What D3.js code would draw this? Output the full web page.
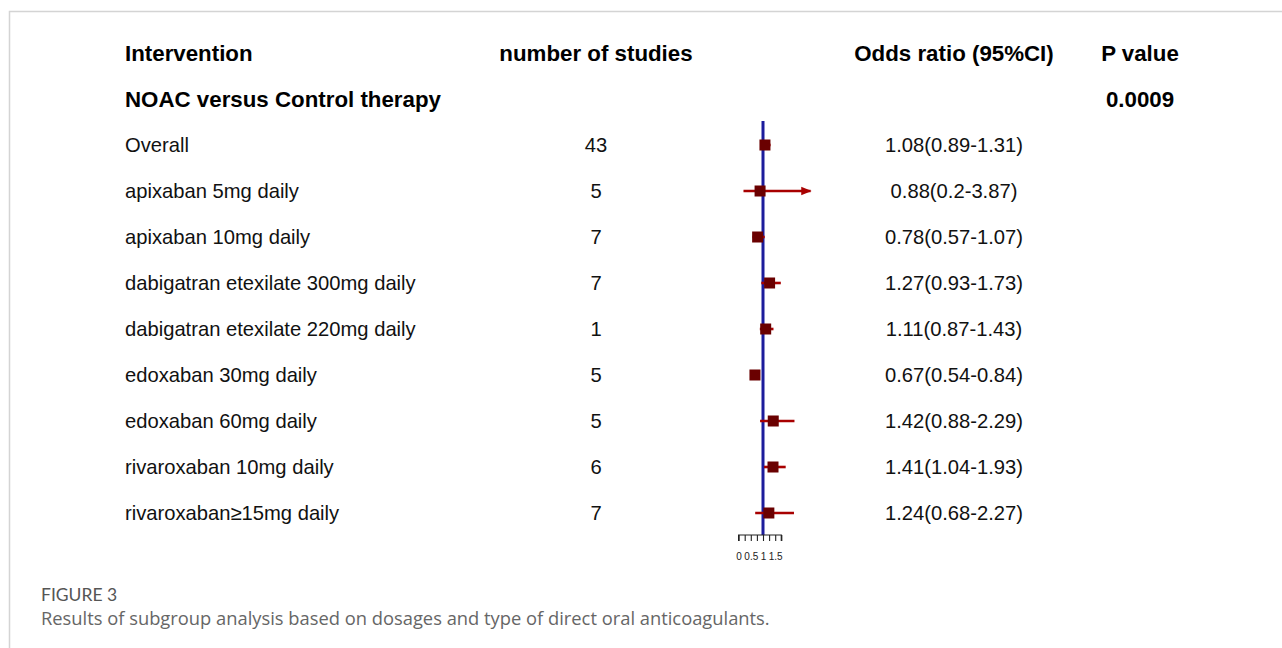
<!DOCTYPE html>
<html><head><meta charset="utf-8">
<script src="https://cdn.jsdelivr.net/npm/d3@7"></script>
<style>
html,body{margin:0;padding:0;background:#fff;}
svg{display:block;}
</style></head>
<body>
<svg id="c" width="1282" height="648"></svg>
<script>
const headers = ["Intervention", "number of studies", "Odds ratio (95%CI)", "P value"];
const groupLabel = "NOAC versus Control therapy";
const groupP = "0.0009";
const interventions = ["Overall","apixaban 5mg daily","apixaban 10mg daily","dabigatran etexilate 300mg daily","dabigatran etexilate 220mg daily","edoxaban 30mg daily","edoxaban 60mg daily","rivaroxaban 10mg daily","rivaroxaban\u226515mg daily"];
const studies = [43, 5, 7, 7, 1, 5, 5, 6, 7];
const oddsRatio = [1.08, 0.88, 0.78, 1.27, 1.11, 0.67, 1.42, 1.41, 1.24];
const lower = [0.89, 0.2, 0.57, 0.93, 0.87, 0.54, 0.88, 1.04, 0.68];
const upper = [1.31, 3.87, 1.07, 1.73, 1.43, 0.84, 2.29, 1.93, 2.27];
const axisTicks = [0, 0.25, 0.5, 0.75, 1, 1.25, 1.5, 1.75];
const axisLabels = [0, 0.5, 1, 1.5];
const clipMax = 2.95;
const caption1 = "FIGURE 3";
const caption2 = "Results of subgroup analysis based on dosages and type of direct oral anticoagulants.";

const svg = d3.select("#c");
const font = "Arial, 'Liberation Sans', Helvetica, sans-serif";
const capFont = "'Open Sans', Lato, sans-serif";

function fitWidth(sel, target){
  const w = sel.node().getComputedTextLength();
  const fs = parseFloat(sel.attr("font-size"));
  if (w > 0) sel.attr("font-size", (fs*target/w).toFixed(2));
}

// frame
svg.append("path").attr("d","M9.5,648 L9.5,11.5 L1282,11.5").attr("fill","none").attr("stroke","#d4d4d4").attr("stroke-width",1.5);

const rowY = d3.scaleLinear().domain([0,1]).range([145,191]);
const x = d3.scaleLinear().domain([0,1]).range([738.6,763]);

const cols = {lab:125, n:596, or:954, p:1140};

// headers
const hy = 61;
const hd = svg.append("g").attr("font-family",font).attr("font-weight","bold").attr("font-size",22.3).attr("fill","#000");
hd.append("text").attr("x",cols.lab).attr("y",hy).text(headers[0]);
hd.append("text").attr("x",cols.n).attr("y",hy).attr("text-anchor","middle").text(headers[1]);
hd.append("text").attr("x",cols.or).attr("y",hy).attr("text-anchor","middle").text(headers[2]);
hd.append("text").attr("x",cols.p).attr("y",hy).attr("text-anchor","middle").text(headers[3]);
hd.append("text").attr("x",cols.lab).attr("y",107).text(groupLabel);
hd.append("text").attr("x",cols.p).attr("y",107).attr("text-anchor","middle").text(groupP);

const rows = svg.append("g").attr("font-family",font).attr("font-size",20.2).attr("fill","#111");
interventions.forEach((lab,i)=>{
  const y = rowY(i) + 7;
  rows.append("text").attr("x",cols.lab).attr("y",y).text(lab);
  rows.append("text").attr("x",cols.n).attr("y",y).attr("text-anchor","middle").text(studies[i]);
  rows.append("text").attr("x",cols.or).attr("y",y).attr("text-anchor","middle").text(`${oddsRatio[i]}(${lower[i]}-${upper[i]})`);
});

// reference line
svg.append("line").attr("x1",x(1)).attr("x2",x(1)).attr("y1",121).attr("y2",535)
  .attr("stroke","#1c1c9c").attr("stroke-width",3);

// CIs
svg.append("defs").append("marker").attr("id","arr").attr("viewBox","0 0 10 10").attr("refX",9).attr("refY",5)
  .attr("markerWidth",4).attr("markerHeight",4).attr("orient","auto").attr("markerUnits","strokeWidth")
  .append("path").attr("d","M0,1 L10,5 L0,9 Z").attr("fill","#a80000");
const ci = svg.append("g");
interventions.forEach((lab,i)=>{
  const y = rowY(i);
  const hiV = Math.min(upper[i], clipMax);
  const l = ci.append("line").attr("x1",x(lower[i])).attr("x2",x(hiV)).attr("y1",y).attr("y2",y)
    .attr("stroke","#a80000").attr("stroke-width",2.6);
  if (upper[i] > clipMax) l.attr("marker-end","url(#arr)");
  const s = 11;
  ci.append("rect").attr("x",x(oddsRatio[i])-s/2).attr("y",y-s/2).attr("width",s).attr("height",s).attr("fill","#6a0000");
});

// axis
const ax = d3.axisBottom(x).tickValues(axisTicks).tickSize(6).tickPadding(12).tickFormat(d=>axisLabels.includes(d)?d3.format("")(d):"");
const axg = svg.append("g").attr("transform","translate(0,535)").call(ax);
axg.select(".domain").attr("stroke","#222").attr("stroke-width",1.2).attr("d",`M${x(0)},6V0H${x(1.75)}V6`);
axg.selectAll(".tick line").attr("stroke","#222").attr("stroke-width",1.1);
axg.selectAll(".tick text").attr("font-family",font).attr("font-size",10).attr("fill","#222");

// caption
svg.append("text").attr("x",41).attr("y",601).text(caption1).attr("font-family","Lato, sans-serif").attr("font-size",17.5).attr("fill","#555");
const c2 = svg.append("text").attr("x",41).attr("y",625).text(caption2).attr("font-family",capFont).attr("font-size",17).attr("fill","#666");
fitWidth(c2, 729);
</script>
</body></html>
